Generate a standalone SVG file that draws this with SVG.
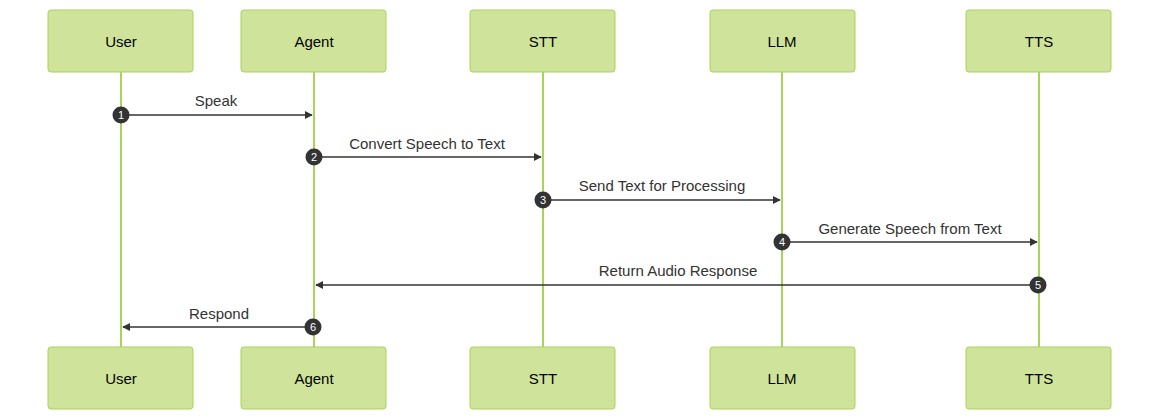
<svg xmlns="http://www.w3.org/2000/svg" width="1160" height="420" viewBox="0 0 1160 420">
<style>
.box{fill:#cfe49a;stroke:#a9d45a;stroke-width:1}
.life{stroke:#a9d45a;stroke-width:2}
.t{font-family:"Liberation Sans",Arial,sans-serif;font-size:15px;fill:#000;text-anchor:middle;dominant-baseline:central}
.m{font-family:"Liberation Sans",Arial,sans-serif;font-size:15px;fill:#333;text-anchor:middle}
.msg{stroke:#333;stroke-width:1.5;fill:none}
.n{fill:#333}
.nt{font-family:"Liberation Sans",Arial,sans-serif;font-size:11px;fill:#fff;text-anchor:middle;dominant-baseline:central}
</style>
<defs><marker id="a" viewBox="0 0 10 10" refX="9" refY="5" markerWidth="8" markerHeight="8" markerUnits="userSpaceOnUse" orient="auto"><path d="M0,0L10,5L0,10z" fill="#333"/></marker></defs>
<g id="lifelines">
<line class="life" x1="121" y1="72" x2="121" y2="347"/>
<line class="life" x1="314" y1="72" x2="314" y2="347"/>
<line class="life" x1="543" y1="72" x2="543" y2="347"/>
<line class="life" x1="782" y1="72" x2="782" y2="347"/>
<line class="life" x1="1039" y1="72" x2="1039" y2="347"/>
</g>
<g id="user-top"><rect class="box" x="48" y="10" width="145" height="62" rx="3"/><text class="t" x="121" y="41">User</text></g>
<g id="agent-top"><rect class="box" x="241" y="10" width="145" height="62" rx="3"/><text class="t" x="314" y="41">Agent</text></g>
<g id="stt-top"><rect class="box" x="470" y="10" width="145" height="62" rx="3"/><text class="t" x="543" y="41">STT</text></g>
<g id="llm-top"><rect class="box" x="710" y="10" width="145" height="62" rx="3"/><text class="t" x="782" y="41">LLM</text></g>
<g id="tts-top"><rect class="box" x="966" y="10" width="145" height="62" rx="3"/><text class="t" x="1039" y="41">TTS</text></g>
<g id="user-bottom"><rect class="box" x="48" y="347" width="145" height="62" rx="3"/><text class="t" x="121" y="378">User</text></g>
<g id="agent-bottom"><rect class="box" x="241" y="347" width="145" height="62" rx="3"/><text class="t" x="314" y="378">Agent</text></g>
<g id="stt-bottom"><rect class="box" x="470" y="347" width="145" height="62" rx="3"/><text class="t" x="543" y="378">STT</text></g>
<g id="llm-bottom"><rect class="box" x="710" y="347" width="145" height="62" rx="3"/><text class="t" x="782" y="378">LLM</text></g>
<g id="tts-bottom"><rect class="box" x="966" y="347" width="145" height="62" rx="3"/><text class="t" x="1039" y="378">TTS</text></g>
<g id="connectors">
<line class="msg" x1="121" y1="115" x2="312" y2="115" marker-end="url(#a)"/>
<text class="m" x="216" y="106">Speak</text>
<circle class="n" cx="121" cy="115" r="8.5"/><text class="nt" x="121" y="115">1</text>
<line class="msg" x1="314" y1="157" x2="541" y2="157" marker-end="url(#a)"/>
<text class="m" x="427" y="149">Convert Speech to Text</text>
<circle class="n" cx="314" cy="157" r="8.5"/><text class="nt" x="314" y="157">2</text>
<line class="msg" x1="543" y1="200" x2="780" y2="200" marker-end="url(#a)"/>
<text class="m" x="662" y="191">Send Text for Processing</text>
<circle class="n" cx="543" cy="200" r="8.5"/><text class="nt" x="543" y="200">3</text>
<line class="msg" x1="782" y1="242" x2="1037" y2="242" marker-end="url(#a)"/>
<text class="m" x="910" y="234">Generate Speech from Text</text>
<circle class="n" cx="782" cy="242" r="8.5"/><text class="nt" x="782" y="242">4</text>
<line class="msg" x1="1039" y1="285" x2="316" y2="285" marker-end="url(#a)"/>
<text class="m" x="678" y="276">Return Audio Response</text>
<circle class="n" cx="1038" cy="285" r="8.5"/><text class="nt" x="1038" y="285">5</text>
<line class="msg" x1="314" y1="327" x2="123" y2="327" marker-end="url(#a)"/>
<text class="m" x="219" y="319">Respond</text>
<circle class="n" cx="313" cy="327" r="8.5"/><text class="nt" x="313" y="327">6</text>
</g>
</svg>
